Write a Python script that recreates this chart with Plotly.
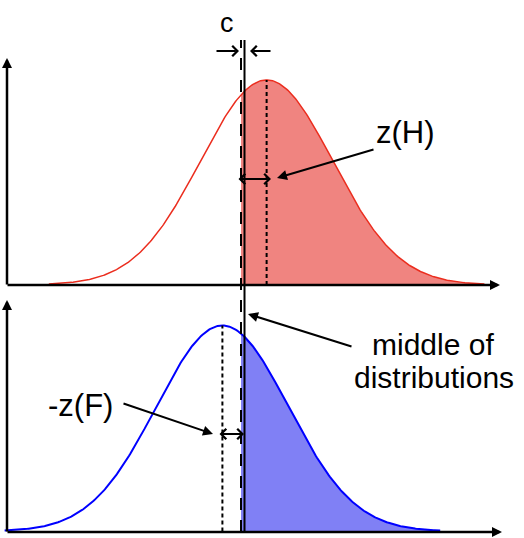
import numpy as np
import plotly.graph_objects as go

# ---- data (in standard-deviation units, 0 = middle of the two distributions) ----
MU_SIGNAL = 0.335      # mean of signal (red, "H") distribution
MU_NOISE = -0.335      # mean of noise (blue, "F") distribution
CRITERION = -0.053     # criterion location (dashed line)
MIDDLE = 0.0           # middle of distributions (solid line)
TAIL_SPAN = 3.3        # how far each curve is drawn from its mean
LABELS = {"c": "c", "zh": "z(H)", "zf": "-z(F)", "mid1": "middle of", "mid2": "distributions"}

W, H = 524, 538
X_RANGE = [-3.705, 4.235]
Y_TOP_RANGE = [-1.234, 1.390]
Y_BOT_RANGE = [-0.0316, 2.580]

RED_LINE = "rgb(235,45,30)"
RED_FILL = "rgb(240,132,128)"
BLUE_LINE = "rgb(0,0,255)"
BLUE_FILL = "rgb(128,128,245)"


def pdf(x, mu):
    return np.exp(-0.5 * (x - mu) ** 2)


def px(xp):
    return xp / W


def py(yp):
    return 1 - yp / H


fig = go.Figure()

# signal distribution (top)
xs = np.linspace(MU_SIGNAL - TAIL_SPAN, MU_SIGNAL + TAIL_SPAN, 400)
xf = np.linspace(CRITERION, MU_SIGNAL + TAIL_SPAN, 300)
fig.add_trace(go.Scatter(x=xf, y=pdf(xf, MU_SIGNAL), fill="tozeroy", fillcolor=RED_FILL,
                         mode="lines", line=dict(width=0), xaxis="x", yaxis="y", hoverinfo="skip"))
fig.add_trace(go.Scatter(x=xs, y=pdf(xs, MU_SIGNAL), mode="lines", line=dict(color=RED_LINE, width=1.5),
                         xaxis="x", yaxis="y", hoverinfo="skip"))
fig.add_trace(go.Scatter(x=[MU_SIGNAL, MU_SIGNAL], y=[0, 1], mode="lines",
                         line=dict(color="black", width=2, dash="4px,3px"), xaxis="x", yaxis="y"))

# noise distribution (bottom)
xn = np.linspace(MU_NOISE - TAIL_SPAN, MU_NOISE + TAIL_SPAN, 400)
xnf = np.linspace(CRITERION, MU_NOISE + TAIL_SPAN, 300)
fig.add_trace(go.Scatter(x=xnf, y=pdf(xnf, MU_NOISE), fill="tozeroy", fillcolor=BLUE_FILL,
                         mode="lines", line=dict(width=0), xaxis="x", yaxis="y2", hoverinfo="skip"))
fig.add_trace(go.Scatter(x=xn, y=pdf(xn, MU_NOISE), mode="lines", line=dict(color=BLUE_LINE, width=2),
                         xaxis="x", yaxis="y2", hoverinfo="skip"))
fig.add_trace(go.Scatter(x=[MU_NOISE, MU_NOISE], y=[0, 1], mode="lines",
                         line=dict(color="black", width=2, dash="4px,3px"), xaxis="x", yaxis="y2"))

# criterion (dashed) and middle (solid) lines spanning both panels
fig.add_shape(type="line", xref="x", yref="paper", x0=CRITERION, x1=CRITERION,
              y0=py(532), y1=py(40), line=dict(color="black", width=2, dash="12px,10px"))
fig.add_shape(type="line", xref="x", yref="paper", x0=MIDDLE, x1=MIDDLE,
              y0=py(532), y1=py(40), line=dict(color="black", width=2))

annotations = []


def arrow(tip, tail, head=2, width=2.0, size=1.0, both=False):
    a = dict(x=px(tip[0]), y=py(tip[1]), xref="paper", yref="paper", text="",
             showarrow=True, ax=tail[0] - tip[0], ay=tail[1] - tip[1],
             arrowhead=head, arrowwidth=width, arrowsize=size, arrowcolor="black",
             standoff=0, startstandoff=0)
    if both:
        a["arrowside"] = "end+start"
        a["startarrowhead"] = head
        a["startarrowsize"] = size
    annotations.append(a)


def label(text, x, y, size):
    annotations.append(dict(x=px(x), y=py(y), xref="paper", yref="paper", text=text,
                            showarrow=False, xanchor="center", yanchor="middle",
                            font=dict(family="Liberation Sans, Arial", size=size, color="black")))


# axes with arrowheads
arrow((7, 58), (7, 286), head=2, width=2.5, size=0.8)
arrow((500, 285), (6, 285), head=2, width=2.5, size=0.8)
arrow((7, 300), (7, 533), head=2, width=2.5, size=0.8)
arrow((502, 532), (6, 532), head=2, width=2.5, size=0.8)

# c arrows
arrow((239, 51), (215, 51), head=4, width=2, size=1.0)
arrow((250, 51), (272, 51), head=4, width=2, size=1.0)
label(LABELS["c"], 227, 23, 27)

# z(H)
arrow((271, 179), (237, 179), head=4, width=2, size=1.0, both=True)
arrow((277, 178), (375, 149), head=2, width=2, size=1.0)
label(LABELS["zh"], 405, 132, 31)

# middle of distributions
arrow((248, 314), (353, 347), head=2, width=2, size=1.0)
label(LABELS["mid1"], 433, 344, 30)
label(LABELS["mid2"], 434, 377, 30)

# -z(F)
arrow((244, 434), (218, 434), head=4, width=2, size=1.0, both=True)
arrow((213, 434), (122, 403), head=2, width=2, size=1.0)
label(LABELS["zf"], 80, 405, 31)

fig.update_layout(
    width=W, height=H, margin=dict(l=0, r=0, t=0, b=0),
    paper_bgcolor="white", plot_bgcolor="rgba(0,0,0,0)", showlegend=False,
    xaxis=dict(range=X_RANGE, visible=False, domain=[0, 1]),
    yaxis=dict(range=Y_TOP_RANGE, visible=False, domain=[0, 1]),
    yaxis2=dict(range=Y_BOT_RANGE, visible=False, overlaying="y"),
    annotations=annotations,
)

fig.write_html("out.html", config={"displayModeBar": False},
               post_script="document.body.style.margin='0';document.body.style.overflow='hidden';")
